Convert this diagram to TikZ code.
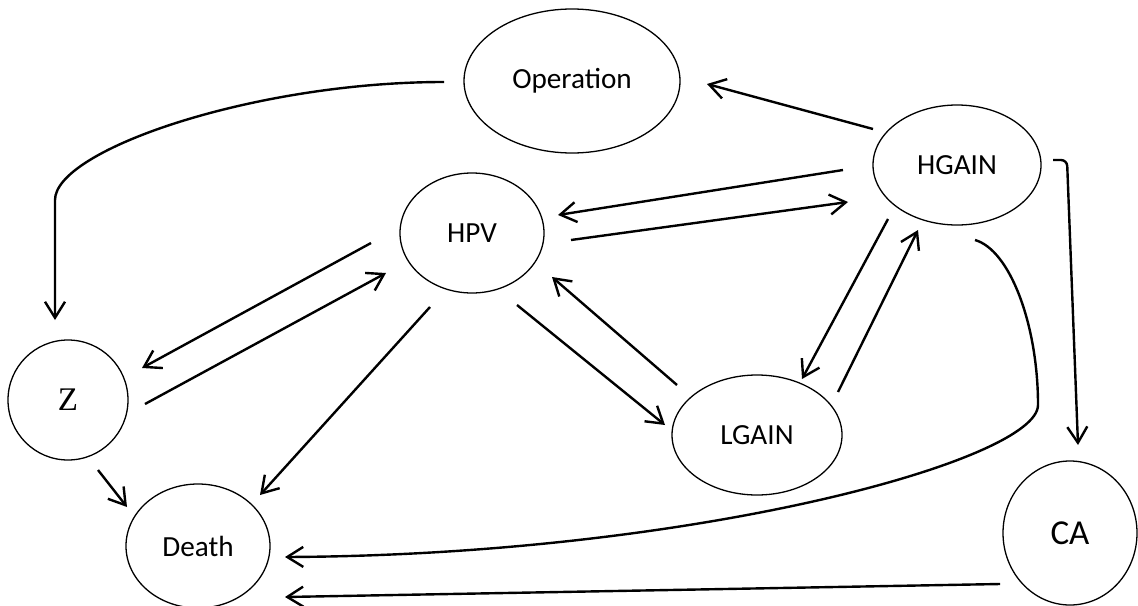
\documentclass[tikz,border=0pt]{standalone}
\usepackage{fontspec}
\setmainfont{Carlito}
\newfontfamily\zfont{Liberation Serif}
\usetikzlibrary{shapes.geometric,arrows.meta,calc}

\tikzset{
  bubble/.style={ellipse,draw,line width=0.65pt,inner sep=0pt,font=\fontsize{14.6}{16}\selectfont},
  arr/.style={line width=1.2pt,-{Straight Barb[length=8pt,width=10pt,line width=1.2pt]}}
}

\begin{document}
\begin{tikzpicture}[x=0.5pt,y=-0.5pt]
\useasboundingbox (0,0) rectangle (1138,605);
\node[bubble,minimum width=108pt,minimum height=72pt] (op) at (572,81) {Operation};
\node[bubble,minimum width=84pt,minimum height=60pt] (hgain) at (957,165) {HGAIN};
\node[bubble,minimum width=72pt,minimum height=60pt] (hpv) at (472,233) {HPV};
\node[bubble,minimum width=60pt,minimum height=60pt,font=\zfont\fontsize{16.5}{18}\selectfont] (z) at (68,400) {Z};
\node[bubble,minimum width=72pt,minimum height=62pt] (death) at (198,546) {Death};
\node[bubble,minimum width=85pt,minimum height=60pt] (lgain) at (757,435) {LGAIN};
\node[bubble,minimum width=67pt,minimum height=72pt,font=\fontsize{17.5}{20}\selectfont] (ca) at (1070,533) {CA};

\draw[arr] ($(op)+(-128,1)$) .. controls +(-190,0) and +(0,-50) .. ($(z)+(-13,-200)$) -- ($(z)+(-13,-80)$);
\draw[arr] ($(hgain)+(-84,-36)$) -- ($(op)+(135,3)$);
\draw[arr] ($(hgain)+(-114,5)$) -- ($(hpv)+(86,-18)$);
\draw[arr] ($(hpv)+(99,7)$) -- ($(hgain)+(-109,37)$);
\draw[arr] ($(hgain)+(-69,54)$) -- ($(lgain)+(45,-56)$);
\draw[arr] ($(lgain)+(81,-43)$) -- ($(hgain)+(-39,65)$);
\draw[arr] ($(hpv)+(45,72)$) -- ($(lgain)+(-92,-10)$);
\draw[arr] ($(lgain)+(-80,-50)$) -- ($(hpv)+(80,44)$);
\draw[arr] ($(hpv)+(-101,10)$) -- ($(z)+(74,-32)$);
\draw[arr] ($(z)+(77,4)$) -- ($(hpv)+(-86,40)$);
\draw[arr] ($(hpv)+(-42,74)$) -- ($(death)+(62,-51)$);
\draw[arr] ($(z)+(30,70)$) -- ($(death)+(-71,-39)$);
\draw[arr] ($(hgain)+(18,75)$) .. controls +(35,10) and +(0,-80) .. ($(hgain)+(81,240)$)
  .. controls +(0,55) and +(410,-2) .. ($(death)+(87,11)$);
\draw[arr,rounded corners=3pt] ($(hgain)+(96,-5)$) -- ++(14,0) -- ($(ca)+(8,-88)$);
\draw[arr] ($(ca)+(-70,51)$) -- ($(death)+(87,51)$);
\end{tikzpicture}
\end{document}
